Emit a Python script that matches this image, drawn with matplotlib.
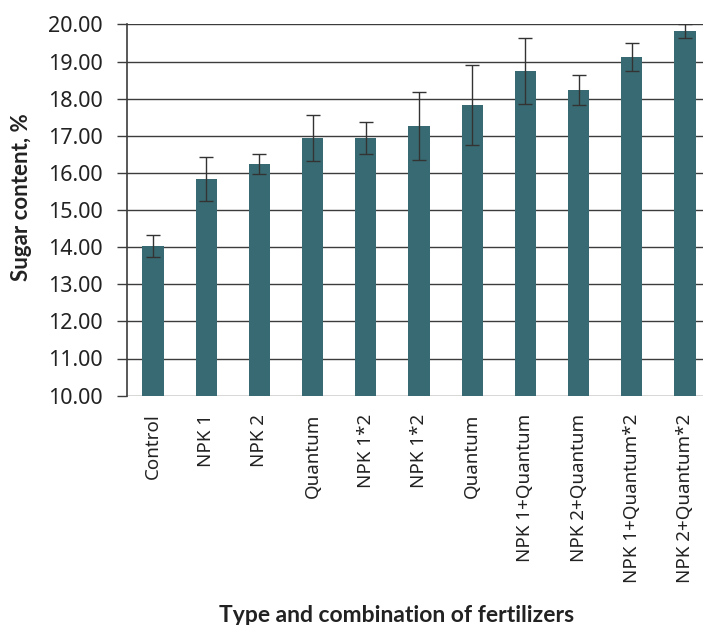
import numpy as np
import matplotlib
matplotlib.use("Agg")
import matplotlib.pyplot as plt

plt.rcParams['font.family'] = ['Noto Sans', 'DejaVu Sans']

# Данные
treatments = ['Control', 'NPK 1', 'NPK 2', 'Quantum', 'NPK 1*2', 'NPK 1*2',
              'Quantum', 'NPK 1+Quantum', 'NPK 2+Quantum',
              'NPK 1+Quantum*2', 'NPK 2+Quantum*2']
sugar = [14.03, 15.83, 16.23, 16.94, 16.94, 17.26, 17.83, 18.74, 18.23, 19.12, 19.82]
err = [0.30, 0.59, 0.27, 0.63, 0.44, 0.91, 1.08, 0.88, 0.40, 0.38, 0.18]
yticks = np.arange(10, 20.01, 1)

bar_color = '#386a73'
grid_color = '#3c3c3c'

fig = plt.figure(figsize=(7.03, 6.25), dpi=100)
ax = fig.add_axes([0.180, 0.367, 0.820, 0.594])

x = np.arange(len(treatments))
ax.bar(x, sugar, width=0.4, color=bar_color, zorder=3)
ax.errorbar(x, sugar, yerr=err, fmt='none', ecolor='#333333', elinewidth=1,
            capsize=5, capthick=1, zorder=4)

ax.set_ylim(10, 20)
ax.set_xlim(-0.5, 10.34)
ax.set_yticks(yticks)
ax.set_yticklabels([f'{v:.2f}' for v in yticks])
ax.set_xticks(x)
ax.set_xticklabels(treatments, rotation=90, va='top', ha='center')

ax.yaxis.grid(True, color=grid_color, linewidth=1)
ax.set_axisbelow(True)
for s in ['top', 'right', 'bottom']:
    ax.spines[s].set_visible(False)
ax.spines['left'].set_color(grid_color)
ax.spines['left'].set_linewidth(1.2)

ax.tick_params(axis='y', length=7, width=1, color=grid_color, pad=10,
               labelsize=15.5, labelcolor='#222222')
ax.tick_params(axis='x', length=0, pad=13, labelsize=13.5, labelcolor='#222222')

bold_font = ['Lato', 'DejaVu Sans']
fig.text(22 / 703, 1 - 197 / 625, 'Sugar content, %', rotation=90,
         ha='center', va='center', fontsize=16, fontweight='bold',
         family=bold_font, color='#222222')
fig.text(397 / 703, 1 - 615 / 625, 'Type and combination of fertilizers',
         ha='center', va='center', fontsize=16.5, fontweight='bold',
         family=bold_font, color='#222222')

fig.savefig('out.png', dpi=100)
